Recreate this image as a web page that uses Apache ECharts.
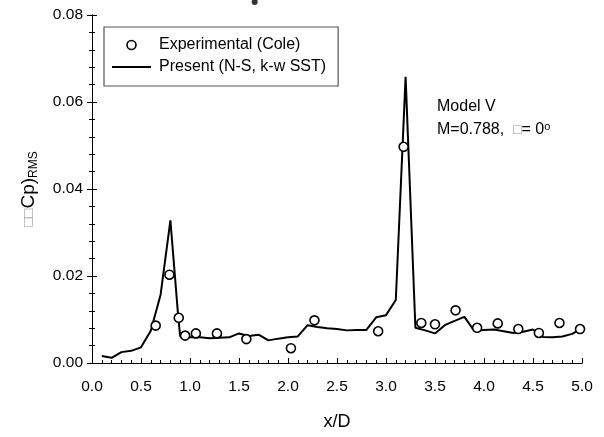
<!DOCTYPE html>
<html>
<head>
<meta charset="utf-8">
<script src="https://cdn.jsdelivr.net/npm/echarts@6/dist/echarts.min.js"></script>
<style>
  html, body { margin: 0; background: #fff; }
  #chart { width: 604px; height: 437px; }
</style>
</head>
<body>
<div id="chart"></div>
<script>
// computed curve (N-S, k-w SST)
const lineX = [0.1, 0.2, 0.3, 0.4, 0.5, 0.6, 0.7, 0.8, 0.88, 0.9, 1.0, 1.1, 1.2, 1.3, 1.4, 1.5, 1.6, 1.7, 1.8, 1.9,
  2.0, 2.1, 2.2, 2.3, 2.4, 2.5, 2.6, 2.7, 2.8, 2.9, 3.0, 3.1, 3.2, 3.3, 3.4, 3.5, 3.6, 3.7, 3.8, 3.9,
  4.0, 4.1, 4.2, 4.3, 4.4, 4.5, 4.6, 4.7, 4.8, 4.9, 4.97];
const lineY = [0.0016, 0.0012, 0.0025, 0.0028, 0.0036, 0.0074, 0.0157, 0.0328, 0.0106, 0.0061, 0.0059, 0.0059, 0.0057, 0.0058, 0.0059, 0.0068, 0.0062, 0.0065, 0.0052, 0.0056,
  0.0059, 0.0061, 0.0087, 0.0083, 0.0080, 0.0078, 0.0075, 0.0076, 0.0076, 0.0105, 0.0110, 0.0145, 0.0658, 0.0081, 0.0075, 0.0068, 0.0087, 0.0097, 0.0106, 0.0074,
  0.0076, 0.0077, 0.0073, 0.0069, 0.0072, 0.0077, 0.0060, 0.0059, 0.0061, 0.0067, 0.0076];

// experimental (Cole)
const expX = [0.65, 0.79, 0.885, 0.95, 1.06, 1.275, 1.575, 2.03, 2.27, 2.92, 3.18, 3.36, 3.5, 3.71, 3.93, 4.14, 4.35, 4.56, 4.77, 4.98];
const expY = [0.0086, 0.0203, 0.0104, 0.0063, 0.0068, 0.0068, 0.0055, 0.0034, 0.0098, 0.0073, 0.0497, 0.0092, 0.0089, 0.0121, 0.0081, 0.0091, 0.0078, 0.0069, 0.0092, 0.0078];

// lone dot above the frame
const strayX = [1.66];
const strayY = [0.083];

const xMin = 0, xMax = 5, xStep = 0.5;
const yMin = 0, yMax = 0.08, yStep = 0.02;

const FONT = "Liberation Sans, Arial, sans-serif";

const zip = (xs, ys) => xs.map((x, i) => [x, ys[i]]);

const chart = echarts.init(document.getElementById("chart"), null, { renderer: "canvas" });

const frameLine = { lineStyle: { color: "#000", width: 1 } };

chart.setOption({
  animation: false,
  backgroundColor: "#fff",
  grid: { left: 92, right: 22, top: 15, bottom: 74, containLabel: false },
  legend: {
    orient: "vertical",
    left: 104,
    top: 27,
    itemWidth: 39,
    itemHeight: 9,
    itemGap: 6,
    padding: [10, 12, 11, 8],
    borderColor: "#555",
    borderWidth: 1.2,
    backgroundColor: "#fff",
    symbolKeepAspect: true,
    textStyle: { fontSize: 16, fontFamily: FONT, color: "#000", padding: [0, 0, 0, 3] },
    data: [
      { name: "Experimental (Cole)", icon: "circle", itemStyle: { color: "#fff", borderColor: "#000", borderWidth: 1.6 } },
      { name: "Present (N-S, k-w SST)", icon: "path://M0,0H40V2H0Z", itemStyle: { color: "#000" } }
    ]
  },
  xAxis: [
    {
      type: "value",
      min: xMin,
      max: xMax,
      interval: xStep,
      position: "bottom",
      name: "x/D",
      nameLocation: "middle",
      nameGap: 50,
      nameTextStyle: { fontSize: 18, fontFamily: FONT, color: "#000" },
      axisLine: frameLine,
      axisTick: { inside: true, length: 5, lineStyle: { color: "#000" } },
      minorTick: { show: true, splitNumber: 5, length: 3, lineStyle: { color: "#000" } },
      axisLabel: { margin: 16, fontSize: 15.5, fontFamily: FONT, color: "#000", formatter: (v) => v.toFixed(1) },
      splitLine: { show: false }
    },
    {
      type: "value",
      min: xMin,
      max: xMax,
      interval: xStep,
      position: "top",
      axisLine: frameLine,
      axisTick: { show: false },
      axisLabel: { show: false },
      splitLine: { show: false }
    }
  ],
  yAxis: [
    {
      type: "value",
      min: yMin,
      max: yMax,
      interval: yStep,
      position: "left",
      name: "{g|\u25A1\u25A1}{a|Cp)}{s|RMS}",
      nameLocation: "middle",
      nameGap: 52,
      nameTextStyle: {
        fontFamily: FONT,
        color: "#000",
        rich: {
          g: { fontSize: 15, color: "#999", fontFamily: FONT, lineHeight: 22 },
          a: { fontSize: 19, color: "#000", fontFamily: FONT, lineHeight: 22 },
          s: { fontSize: 12, color: "#000", fontFamily: FONT, verticalAlign: "bottom", lineHeight: 14 }
        }
      },
      axisLine: frameLine,
      axisTick: { inside: true, length: 5, lineStyle: { color: "#000" } },
      minorTick: { show: true, splitNumber: 5, length: 3, lineStyle: { color: "#000" } },
      axisLabel: { margin: 9, fontSize: 15.5, fontFamily: FONT, color: "#000", formatter: (v) => v.toFixed(2) },
      splitLine: { show: false }
    },
    {
      type: "value",
      min: yMin,
      max: yMax,
      interval: yStep,
      position: "right",
      axisLine: frameLine,
      axisTick: { inside: true, length: 5, lineStyle: { color: "#000" } },
      minorTick: { show: true, splitNumber: 5, length: 3, lineStyle: { color: "#000" } },
      axisLabel: { show: false },
      splitLine: { show: false }
    }
  ],
  graphic: [
    {
      type: "text",
      left: 437,
      top: 99,
      style: { text: "Model V", font: "16px " + FONT, fill: "#000" }
    },
    {
      type: "text",
      left: 437,
      top: 121,
      style: {
        text: "{n|M=0.788,  }{g|\u25A1}{n|= 0}{s|o}",
        rich: {
          n: { fontSize: 16, fontFamily: FONT, fill: "#000", lineHeight: 18 },
          g: { fontSize: 14, fontFamily: FONT, fill: "#999", lineHeight: 18 },
          s: { fontSize: 11, fontFamily: FONT, fill: "#000", verticalAlign: "top", lineHeight: 11 }
        }
      }
    }
  ],
  series: [
    {
      name: "Present (N-S, k-w SST)",
      type: "line",
      data: zip(lineX, lineY),
      symbol: "none",
      color: "#000",
      lineStyle: { color: "#000", width: 2 },
      z: 2
    },
    {
      name: "Experimental (Cole)",
      type: "scatter",
      data: zip(expX, expY),
      symbol: "circle",
      symbolSize: 9,
      itemStyle: { color: "#fff", borderColor: "#000", borderWidth: 1.6, opacity: 1 },
      z: 3
    },
    {
      name: "stray",
      type: "scatter",
      data: zip(strayX, strayY),
      symbol: "circle",
      symbolSize: 6,
      clip: false,
      itemStyle: { color: "#000" },
      z: 3
    }
  ]
});
</script>
</body>
</html>
